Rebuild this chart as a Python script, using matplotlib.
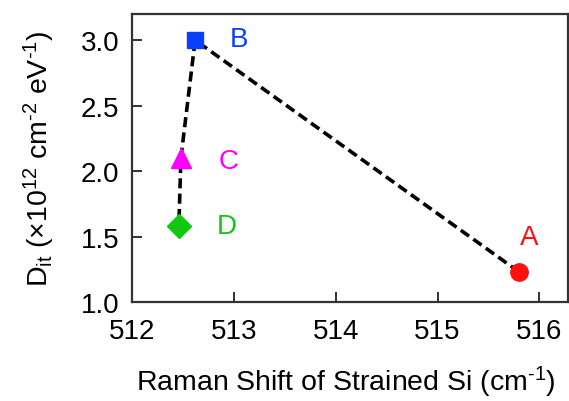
import matplotlib
matplotlib.use("Agg")
import matplotlib.pyplot as plt

labels = ["A", "B", "C", "D"]
raman = [515.80, 512.62, 512.48, 512.46]
dit = [1.23, 3.00, 2.10, 1.58]
colors = ["#ff1010", "#0a40ff", "#ff00ff", "#10c810"]
markers = ["o", "s", "^", "D"]
marker_sizes = [12.5, 12, 15, 12.5]
label_offsets = [(0.10, 0.27), (0.43, 0.01), (0.47, -0.02), (0.47, 0.0)]

xticks = [512, 513, 514, 515, 516]
yticks = [1.0, 1.5, 2.0, 2.5, 3.0]

plt.rcParams['font.family'] = ['Liberation Sans', 'DejaVu Sans']
plt.rcParams['mathtext.fontset'] = 'custom'
plt.rcParams['mathtext.rm'] = 'Liberation Sans'
plt.rcParams['mathtext.it'] = 'Liberation Sans'

fig = plt.figure(figsize=(5.69, 4.02), dpi=100)
ax = fig.add_axes([0.2320, 0.2463, 0.7660, 0.7164])

ax.plot(raman, dit, linestyle=(0, (2.8, 1.45)), color="black", linewidth=2.6, zorder=1)
for x, y, c, m, ms, lab, off in zip(raman, dit, colors, markers, marker_sizes, labels, label_offsets):
    ax.plot([x], [y], marker=m, color=c, markersize=ms, linestyle="none", zorder=2)
    ax.text(x + off[0], y + off[1], lab, color=c, fontsize=20, ha="center", va="center")

ax.set_xlim(512, 516.28)
ax.set_ylim(1.0, 3.2)
ax.set_xticks(xticks)
ax.set_yticks(yticks)
ax.set_xticklabels([str(v) for v in xticks])
ax.set_yticklabels([f"{v:.1f}" for v in yticks])
ax.tick_params(direction="in", length=7, width=1.3, labelsize=20, colors="#222222", labelcolor="black")
ax.tick_params(axis="x", pad=11.5)
ax.tick_params(axis="y", pad=9)
for s in ax.spines.values():
    s.set_linewidth(1.6)
    s.set_color("#333333")

ax.set_xlabel(r"Raman Shift of Strained Si (cm$^{\mathregular{\text{-}1}}$)", fontsize=20.5)
ax.set_ylabel(r"D$_{\mathregular{it}}$ ($\mathregular{\times}$10$^{\mathregular{12}}$ cm$^{\mathregular{\text{-}2}}$ eV$^{\mathregular{\text{-}1}}$)", fontsize=20.5)
ax.xaxis.set_label_coords(0.49, -0.215)
ax.yaxis.set_label_coords(-0.172, 0.5)

fig.savefig("out.png", dpi=100)
